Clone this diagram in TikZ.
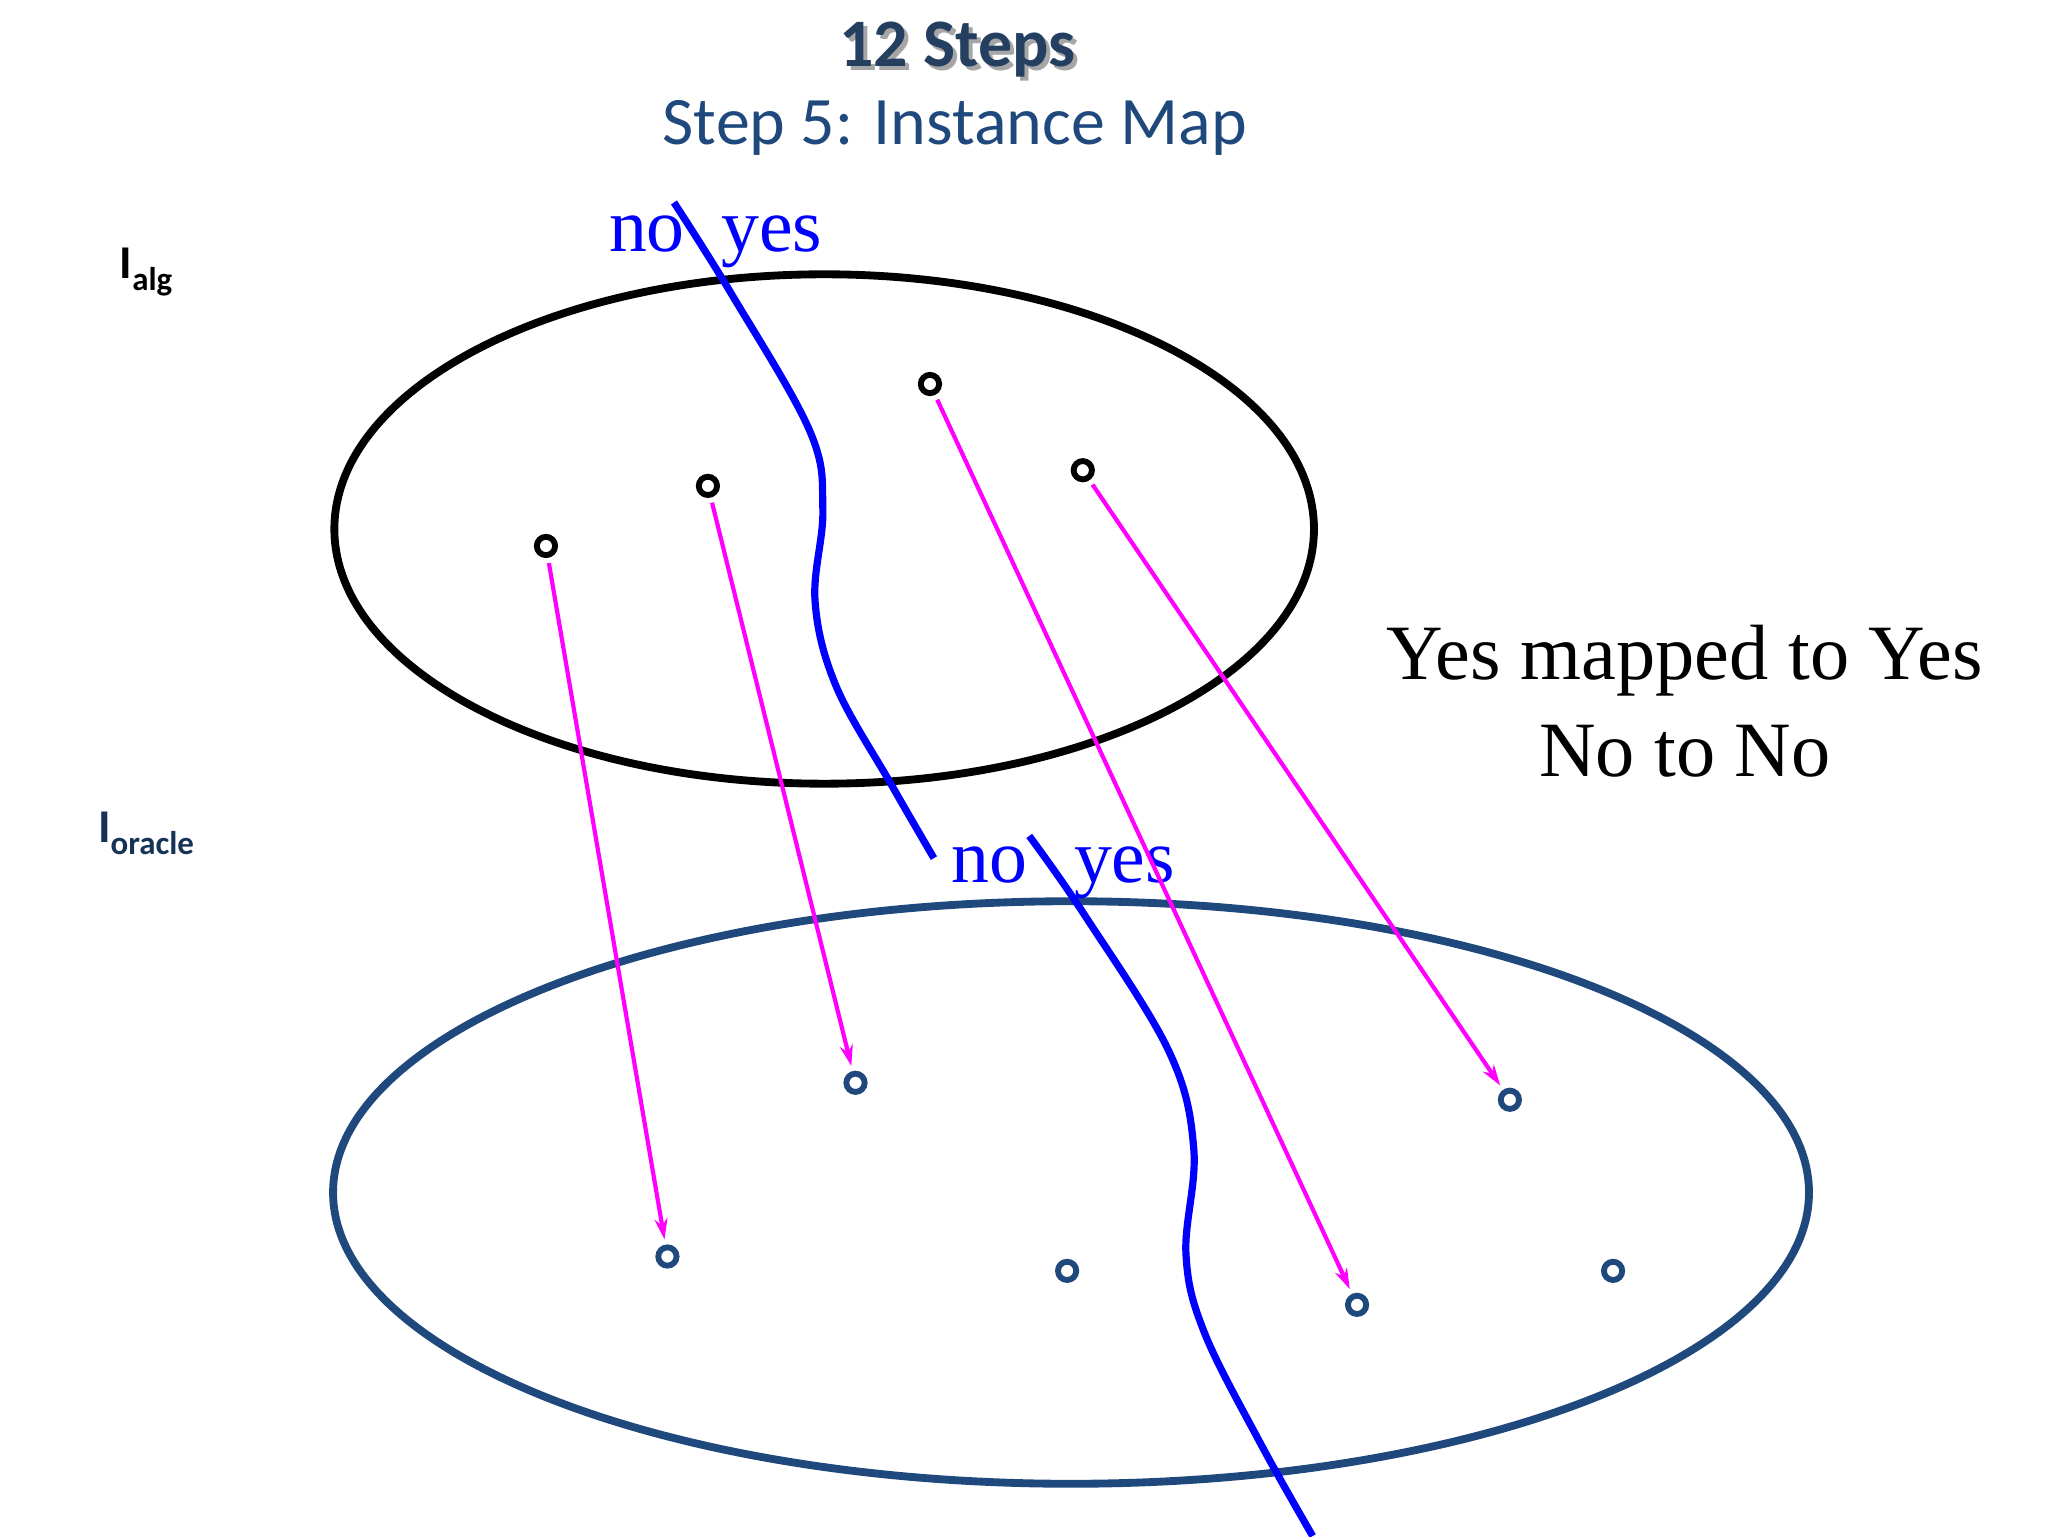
\documentclass[tikz,border=0pt]{standalone}
\usepackage{fontspec}
\setmainfont{Liberation Serif}
\newfontfamily\carfont{Carlito}
\usetikzlibrary{arrows.meta}
\definecolor{dkb}{HTML}{1F497D}
\definecolor{ttl}{HTML}{243F60}
\definecolor{mag}{RGB}{255,0,255}
\definecolor{blu}{RGB}{0,0,255}
\begin{document}
\begin{tikzpicture}[x=1pt,y=-1pt,
  pta/.style={circle,draw=black,line width=4.5pt,minimum size=14pt,inner sep=0pt},
  ptb/.style={circle,draw=dkb,line width=4.5pt,minimum size=14pt,inner sep=0pt},
  mapar/.style={mag,line width=3.2pt,-{Stealth[length=16pt,width=10pt]},shorten >=4pt,shorten <=4pt},
  cut/.style={blu,line width=5.5pt},
  lab/.style={blu,font=\fontsize{58}{64}\selectfont,inner sep=0pt}]
\useasboundingbox (0,0) rectangle (1568,1176);
\node[text=gray!70] at (736,41) {\carfont\fontsize{52}{56}\selectfont\bfseries 12 Steps};
\node (t1) at (733,38) {\carfont\fontsize{52}{56}\selectfont\bfseries\textcolor{ttl}{12 Steps}};
\node (t2) at (731,98) {\carfont\fontsize{52}{56}\selectfont\textcolor{dkb}{Step 5: Instance Map}};
\node (ia) at (112,208) {\carfont\bfseries\fontsize{36}{40}\selectfont I\textsubscript{alg}};
\node[text=dkb!70!black] (io) at (112,638) {\carfont\bfseries\fontsize{36}{40}\selectfont I\textsubscript{oracle}};
\draw[line width=6pt] (631,405) ellipse [x radius=375, y radius=195];
\draw[dkb,line width=6pt] (820,913) ellipse [x radius=565, y radius=223];
\draw[cut] plot[smooth,tension=0.6] coordinates {(516,155) (560,225) (620,330) (630,390) (624,460) (640,525) (682,600) (715,657)};
\draw[cut] plot[smooth,tension=0.6] coordinates {(788,640) (830,700) (895,805) (914,880) (908,960) (922,1020) (965,1105) (1005,1176)};
\node[lab] (ny1) at (548,185) {no\hspace{28pt}yes};
\node[lab] (ny2) at (814,668) {no\hspace{36pt}yes};
\node[pta] (a1) at (418,418) {};
\node[pta] (a2) at (542,372) {};
\node[pta] (a3) at (712,294) {};
\node[pta] (a4) at (829,360) {};
\node[ptb] (b1) at (511,962) {};
\node[ptb] (b2) at (655,829) {};
\node[ptb] (b3) at (817,973) {};
\node[ptb] (b4) at (1039,999) {};
\node[ptb] (b5) at (1156,842) {};
\node[ptb] (b6) at (1235,973) {};
\draw[mapar] (a1) -- (b1);
\draw[mapar] (a2) -- (b2);
\draw[mapar] (a3) -- (b4);
\draw[mapar] (a4) -- (b5);
\node[align=center,font=\fontsize{60}{74}\selectfont] (txt) at (1290,537) {Yes mapped to Yes\\No to No};
\end{tikzpicture}
\end{document}
